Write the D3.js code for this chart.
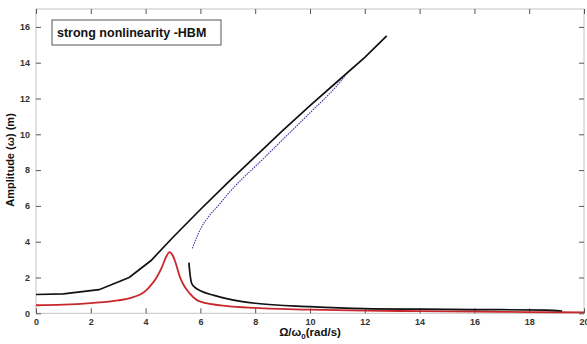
<!DOCTYPE html>
<html><head><meta charset="utf-8">
<script src="https://cdn.jsdelivr.net/npm/d3@7"></script>
<style>body{margin:0;background:#fff;}svg{display:block;font-family:Arial,"Liberation Sans",sans-serif;}</style>
</head><body>
<svg id="c" width="587" height="344"></svg>
<script>
// Data
const xTicks = [0,2,4,6,8,10,12,14,16,18,20];
const yTicks = [0,2,4,6,8,10,12,14,16];
const upperBlackX = [0,1,2.3,3.4,4.2,5,6,7,8,9,10,11,12,12.8];
const upperBlackY = [1.05,1.08,1.32,2.0,2.95,4.25,5.8,7.3,8.75,10.2,11.6,12.95,14.3,15.5];
const blueX = [5.71,5.8,6.0,6.3,6.7,7.08,7.45,8,9,10,11,11.3];
const blueY = [3.63,4.0,4.7,5.4,6.1,6.8,7.4,8.2,9.7,11.2,12.75,13.3];
const redX = [0,1,2,3,3.43,4,4.16,4.4,4.6,4.75,4.87,5.0,5.1,5.26,5.4,5.6,6,7,8,10,12,14,16,18,20];
const redY = [0.45,0.48,0.57,0.72,0.85,1.25,1.5,2.0,2.6,3.15,3.42,3.2,2.8,2.0,1.55,1.13,0.65,0.4,0.3,0.2,0.15,0.12,0.1,0.07,0.05];
const lowerBlackX = [5.58,5.62,5.68,5.8,6.0,6.5,7.08,8,10,12,14,16,18.6,19.2];
const lowerBlackY = [2.83,2.2,1.68,1.45,1.26,1.0,0.78,0.56,0.37,0.26,0.23,0.21,0.18,0.13];
const legendText = "strong nonlinearity -HBM";

const svg = d3.select("#c");
const L=36, R=584, T=9, B=313.3;
const x = d3.scaleLinear().domain([0,20]).range([L,R]);
const y = d3.scaleLinear().domain([0,17]).range([B,T]);

// box
svg.append("rect").attr("x",L).attr("y",T).attr("width",R-L).attr("height",B-T)
  .attr("fill","none").attr("stroke","#c4c4c4").attr("stroke-width",1);

// axes with inner ticks
const tickCol="#555";
const gB = svg.append("g").attr("transform",`translate(0,${B})`)
  .call(d3.axisBottom(x).tickValues(xTicks).tickSize(-5).tickPadding(5).tickFormat(d3.format("d")));
const gT = svg.append("g").attr("transform",`translate(0,${T})`)
  .call(d3.axisTop(x).tickValues(xTicks).tickSize(-5).tickFormat(""));
const gL = svg.append("g").attr("transform",`translate(${L},0)`)
  .call(d3.axisLeft(y).tickValues(yTicks).tickSize(-5).tickPadding(6).tickFormat(d3.format("d")));
const gR = svg.append("g").attr("transform",`translate(${R},0)`)
  .call(d3.axisRight(y).tickValues(yTicks).tickSize(-5).tickFormat(""));
[gB,gT,gL,gR].forEach(g=>{
  g.select(".domain").remove();
  g.selectAll(".tick line").attr("stroke",tickCol);
  g.selectAll(".tick text").attr("fill","#333").style("font-size","9px").style("font-weight","bold").style("font-family","Arial, 'Liberation Sans', sans-serif");
});

const line = (xs,ys,curve)=>d3.line().x(i=>x(xs[i])).y(i=>y(ys[i])).curve(curve)(d3.range(xs.length));

svg.append("path").attr("d",line(redX,redY,d3.curveMonotoneX)).attr("fill","none")
  .attr("stroke","#c8282c").attr("stroke-width",1.8);
svg.append("path").attr("d",line(lowerBlackX,lowerBlackY,d3.curveMonotoneX)).attr("fill","none")
  .attr("stroke","#111").attr("stroke-width",1.7);
svg.append("path").attr("d",line(upperBlackX,upperBlackY,d3.curveLinear)).attr("fill","none")
  .attr("stroke","#111").attr("stroke-width",1.7);
svg.append("path").attr("d",line(blueX,blueY,d3.curveMonotoneX)).attr("fill","none")
  .attr("stroke","#3a3aa8").attr("stroke-width",1.1).attr("stroke-dasharray","1.5,1");

// legend box
svg.append("rect").attr("x",52).attr("y",20).attr("width",169).attr("height",25)
  .attr("fill","#fff").attr("stroke","#555").attr("stroke-width",1);
svg.append("text").attr("x",57).attr("y",37).text(legendText)
  .style("font-size","12.5px").style("font-weight","bold").attr("fill","#111");

// axis labels
svg.append("text").attr("transform","translate(14,160) rotate(-90)").attr("text-anchor","middle")
  .style("font-size","11px").style("font-weight","bold").attr("fill","#111").text("Amplitude (ω) (m)");
const xl = svg.append("text").attr("x",310).attr("y",336).attr("text-anchor","middle")
  .style("font-size","11.5px").style("font-weight","bold").attr("fill","#111");
xl.append("tspan").text("Ω/ω");
xl.append("tspan").attr("dy",3).style("font-size","8px").text("0");
xl.append("tspan").attr("dy",-3).text("(rad/s)");
</script>
</body></html>
